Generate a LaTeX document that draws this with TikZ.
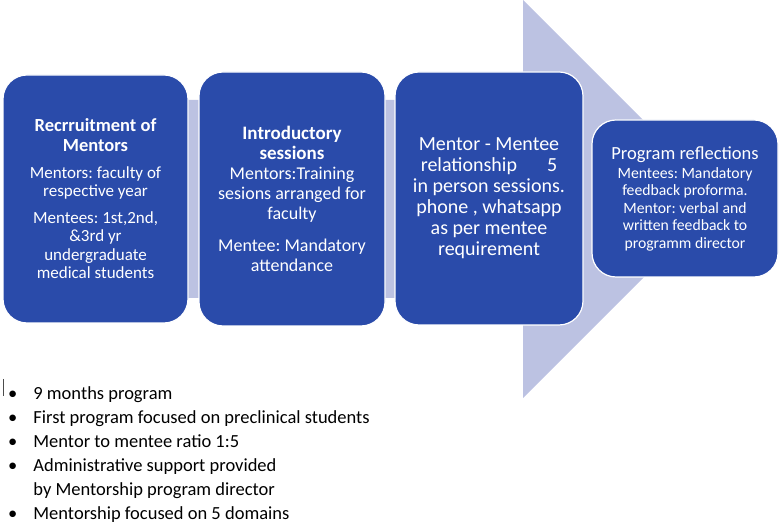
\documentclass[tikz,border=0pt]{standalone}
\usepackage{fontspec}
\setmainfont{Carlito}
\usetikzlibrary{positioning}
\definecolor{stageblue}{RGB}{42,75,170}
\definecolor{shaftlav}{RGB}{188,194,226}
\frenchspacing

\begin{document}
\begin{tikzpicture}[x=1pt,y=1pt,
		stagebox/.style={draw=white,line width=1.2pt,fill=stageblue,rounded corners=24pt,
			text=white,align=center,inner sep=0pt},
		notelist/.style={anchor=base west,inner sep=0pt,font=\fontsize{18.5}{24}\selectfont}]
				\useasboundingbox (0,0) rectangle (779,524);
				%\draw[color=gray,step=10pt, help lines,opacity=0.3] (0,0) grid (779,524); %help grids
				\fill[shaftlav] (8,424) -- (523,424) -- (523,524) -- (722,325) -- (523,126) -- (523,226) -- (8,226) -- cycle;
				\node[stagebox,minimum width=185pt,minimum height=248pt,font=\fontsize{17}{18.5}\selectfont] (recruit) at (95.5,325)
					{{\fontsize{18.5}{20}\selectfont\bfseries Recrruitment of}\\[1.5pt] {\fontsize{18.5}{20}\selectfont\bfseries Mentors}\\[8pt]
					 Mentors: faculty of\\ respective year\\[8pt]
					 Mentees: 1st,2nd,\\ \&3rd yr\\ undergraduate\\ medical students};
				\node[stagebox,minimum width=186pt,minimum height=254pt,font=\fontsize{18}{20}\selectfont] (intro) at (292,325)
					{{\fontsize{19}{20}\selectfont\bfseries Introductory}\\ {\fontsize{19}{20}\selectfont\bfseries sessions}\\
					 Mentors:Training\\ sesions arranged for\\ faculty\\[12pt]
					 Mentee: Mandatory\\ attendance};
				\node[stagebox,minimum width=188pt,minimum height=253pt,font=\fontsize{20}{21}\selectfont] (relation) at (489,325.5)
					{Mentor - Mentee\\ relationship\hspace{30pt}5\\ in person sessions.\\ phone , whatsapp\\ as per mentee\\ requirement};
				\node[stagebox,minimum width=186pt,minimum height=157pt,font=\fontsize{15.7}{17.5}\selectfont] (reflect) at (685,325.5)
					{{\fontsize{18.5}{19}\selectfont Program reflections}\\[1.5pt] Mentees: Mandatory\\ feedback proforma.\\
					 Mentor: verbal and\\ written feedback to\\ programm director};
				\draw[black!70,line width=0.8pt] (3,145) -- (3,128);
				\node[notelist] (notes) at (8,124)
					{\begin{tabular}[t]{@{}l@{\hspace{16pt}}l@{}}
					 • & 9 months program\\
					 • & First program focused on preclinical students\\
					 • & Mentor to mentee ratio 1:5\\
					 • & Administrative support provided\\
					   & by Mentorship program director\\
					 • & Mentorship focused on 5 domains
					 \end{tabular}};
\end{tikzpicture}
\end{document}
